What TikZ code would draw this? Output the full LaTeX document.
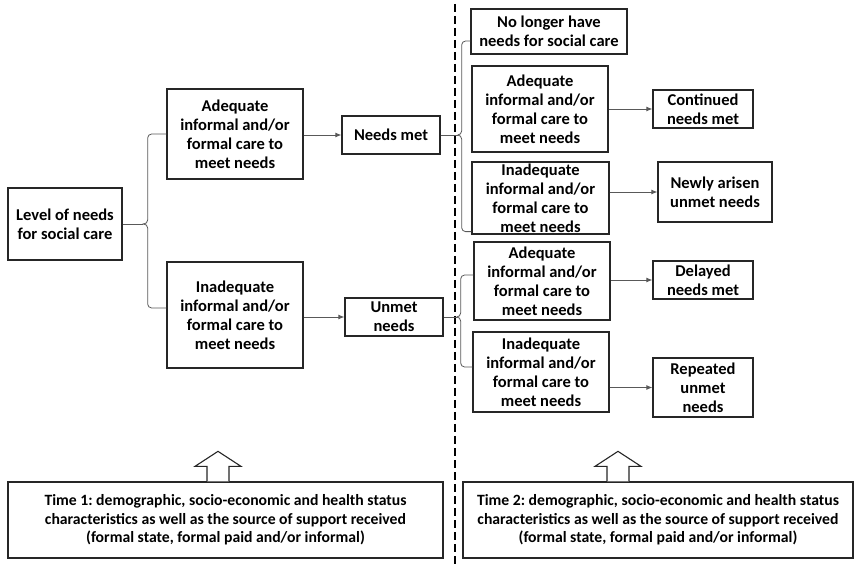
\documentclass[tikz,border=0pt]{standalone}
\usepackage{fontspec}
\setmainfont{Carlito}
\frenchspacing
\usetikzlibrary{arrows.meta}
\tikzset{
    box/.style={draw=black!85, line width=1.3pt, align=center, inner sep=1pt,
        font=\bfseries\fontsize{16.5}{19}\selectfont},
    timebox/.style={box, font=\bfseries\fontsize{15.7}{18.5}\selectfont},
    link/.style={draw=black!65, line width=0.8pt},
    arr/.style={link, -{Latex[length=6pt,width=5pt]}},
    hollow/.style={draw=black!85, line width=1.1pt, fill=white},
    divider/.style={line width=2pt, dash pattern=on 8pt off 4pt},
}

\begin{document}
\begin{tikzpicture}[x=1pt,y=-1pt]
\useasboundingbox (0,0) rectangle (855,564);

\node[box, minimum width=114, minimum height=72] (lvl) at (65,224) {Level of needs\\for social care};
\node[box, minimum width=136, minimum height=90] (adq1) at (235,134) {Adequate\\informal and/or\\formal care to\\meet needs};
\node[box, minimum width=136, minimum height=106] (inadq1) at (235,315) {Inadequate\\informal and/or\\formal care to\\meet needs};
\node[box, minimum width=98, minimum height=38] (met) at (391,135) {Needs met};
\node[box, minimum width=98, minimum height=38] (unmet) at (394,317) {Unmet\\needs};

\node[box, minimum width=156, minimum height=45] (nolonger) at (549,31.5) {No longer have\\needs for social care};
\node[box, minimum width=136, minimum height=86] (adq2) at (540,109) {Adequate\\informal and/or\\formal care to\\meet needs};
\node[box, minimum width=100, minimum height=38] (cont) at (703,109) {Continued\\needs met};
\node[box, minimum width=137, minimum height=72] (inadq2) at (540.5,198) {Inadequate\\informal and/or\\formal care to\\meet needs};
\node[box, minimum width=114, minimum height=60] (newly) at (715,192) {Newly arisen\\unmet needs};
\node[box, minimum width=136, minimum height=78] (adq3) at (542,281) {Adequate\\informal and/or\\formal care to\\meet needs};
\node[box, minimum width=100, minimum height=38] (delayed) at (703,280) {Delayed\\needs met};
\node[box, minimum width=136, minimum height=80] (inadq3) at (541,372) {Inadequate\\informal and/or\\formal care to\\meet needs};
\node[box, minimum width=100, minimum height=59] (repeated) at (703,387.5) {Repeated\\unmet\\needs};

\node[timebox, minimum width=435, minimum height=76] (time1) at (225.5,520) {Time 1: demographic, socio-economic and health status\\characteristics as well as the source of support received\\(formal state, formal paid and/or informal)};
\node[timebox, minimum width=390, minimum height=76] (time2) at (658,520) {Time 2: demographic, socio-economic and health status\\characteristics as well as the source of support received\\(formal state, formal paid and/or informal)};

\draw[divider] (455,4) -- (455,564);

\draw[link] (lvl.east) -- ++(20,0) coordinate (c1);
\draw[link, rounded corners=4] (adq1.west) -| ([xshift=5pt]c1) -- (c1);
\draw[link, rounded corners=4] ([yshift=7pt]inadq1.west) -| ([xshift=5pt]c1) -- (c1);

\draw[link] (met.east) -- ++(17,0) coordinate (c2);
\draw[link, rounded corners=4] ([yshift=-9.5pt]nolonger.west) -| ([xshift=4pt]c2) -- (c2);
\draw[link, rounded corners=4] ([yshift=3pt]inadq2.south west) -| ([xshift=4pt]c2) -- (c2);

\draw[link] (unmet.east) -- ++(13,0) coordinate (c3);
\draw[link, rounded corners=4] ([yshift=6pt]adq3.west) -| ([xshift=4pt]c3) -- (c3);
\draw[link, rounded corners=4] ([yshift=5pt]inadq3.west) -| ([xshift=4pt]c3) -- (c3);

\draw[arr] (adq1.east |- met.west) -- (met.west);
\draw[arr] (inadq1.east |- unmet.west) -- (unmet.west);
\draw[arr] (adq2.east |- cont.west) -- (cont.west);
\draw[arr] (inadq2.east |- newly.west) -- (newly.west);
\draw[arr] (adq3.east |- delayed.west) -- (delayed.west);
\draw[arr] (inadq3.east |- repeated.west) -- (repeated.west);

\coordinate (u1) at ([xshift=-7.5pt]time1.north);
\coordinate (u2) at ([xshift=-40pt]time2.north);
\foreach \u in {u1,u2}
    \draw[hollow] (\u) ++(-11,0) -- ++(0,-15) -- ++(-12,0) -- ++(23,-15) -- ++(23,15) -- ++(-12,0) -- ++(0,15);
\end{tikzpicture}
\end{document}
